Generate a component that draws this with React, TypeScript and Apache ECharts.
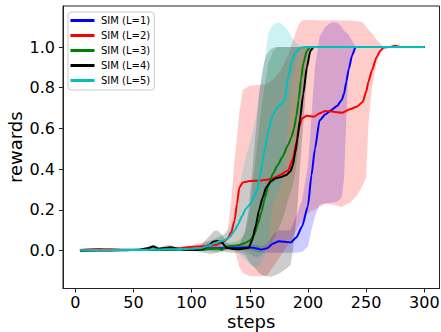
import React, { useEffect, useRef } from "react";
import * as echarts from "echarts";

// ---------- data ----------
const xTicks = [0, 50, 100, 150, 200, 250, 300];
const yTicks = [0, 0.2, 0.4, 0.6, 0.8, 1.0];

const stepsL1 = [4, 20, 40, 60, 80, 100, 120, 140, 150, 155, 160, 165, 170, 175, 180, 185, 190, 195, 200, 203, 206, 210, 215, 220, 225, 229, 231, 233, 235, 238, 241, 300];
const meanL1 = [0.003, 0.003, 0.005, 0.004, 0.005, 0.008, 0.012, 0.015, 0.016, 0.012, 0.006, 0.012, 0.035, 0.046, 0.044, 0.04, 0.065, 0.12, 0.22, 0.37, 0.5, 0.64, 0.67, 0.69, 0.71, 0.74, 0.77, 0.83, 0.89, 0.96, 1.0, 1.0];
const lowL1 = [0.0, 0.0, 0.002, 0.001, 0.002, 0.003, 0.005, 0.005, 0.004, -0.005, -0.01, -0.01, -0.01, -0.01, -0.01, -0.01, -0.01, -0.005, 0.02, 0.1, 0.17, 0.225, 0.233, 0.235, 0.24, 0.26, 0.35, 0.65, 0.9, 0.97, 1.0, 1.0];
const highL1 = [0.006, 0.006, 0.008, 0.007, 0.008, 0.013, 0.019, 0.025, 0.028, 0.03, 0.022, 0.034, 0.08, 0.1, 0.1, 0.1, 0.17, 0.25, 0.42, 0.66, 0.9, 1.05, 1.1, 1.12, 1.12, 1.1, 1.08, 1.07, 1.06, 1.03, 1.0, 1.0];

const stepsL2 = [4, 20, 30, 40, 60, 80, 100, 110, 120, 127, 131, 134, 137, 139, 141, 144, 150, 160, 165, 170, 176, 183, 187, 190, 192, 195, 199, 205, 210, 215, 222, 229, 236, 242, 247, 250, 252, 255, 259, 262, 265, 270, 275, 280, 300];
const meanL2 = [0.003, 0.008, 0.007, 0.004, 0.004, 0.006, 0.018, 0.022, 0.028, 0.042, 0.06, 0.09, 0.15, 0.23, 0.31, 0.335, 0.342, 0.345, 0.348, 0.356, 0.372, 0.395, 0.45, 0.53, 0.6, 0.65, 0.662, 0.658, 0.675, 0.686, 0.682, 0.677, 0.694, 0.707, 0.73, 0.78, 0.83, 0.885, 0.95, 0.98, 0.997, 1.0, 1.006, 1.0, 1.0];
const lowL2 = [0.0, 0.004, 0.003, 0.001, 0.001, 0.002, 0.008, 0.005, 0.0, 0.005, 0.01, 0.01, 0.0, -0.04, -0.08, -0.11, -0.125, -0.125, -0.12, -0.08, -0.03, 0.03, 0.07, 0.1, 0.12, 0.15, 0.18, 0.2, 0.215, 0.23, 0.225, 0.215, 0.235, 0.27, 0.32, 0.36, 0.62, 0.8, 0.92, 0.97, 0.995, 1.0, 1.0, 1.0, 1.0];
const highL2 = [0.006, 0.012, 0.011, 0.007, 0.007, 0.01, 0.028, 0.04, 0.056, 0.075, 0.1, 0.25, 0.45, 0.56, 0.68, 0.79, 0.81, 0.815, 0.82, 0.84, 0.88, 0.96, 1.03, 1.08, 1.11, 1.13, 1.133, 1.133, 1.13, 1.13, 1.133, 1.13, 1.13, 1.128, 1.12, 1.1, 1.085, 1.067, 1.035, 1.018, 1.0, 1.0, 1.012, 1.0, 1.0];

const stepsL3 = [4, 20, 40, 60, 80, 100, 110, 116, 122, 126, 130, 135, 141, 146, 150, 154, 157, 160, 163, 166, 170, 174, 178, 183, 186, 188, 190, 192, 194, 196, 199, 202, 300];
const meanL3 = [0.002, 0.003, 0.004, 0.003, 0.005, 0.006, 0.004, 0.01, 0.012, 0.004, 0.02, 0.024, 0.028, 0.038, 0.05, 0.08, 0.13, 0.19, 0.26, 0.32, 0.38, 0.42, 0.46, 0.52, 0.56, 0.6, 0.66, 0.74, 0.84, 0.92, 0.98, 1.0, 1.0];
const lowL3 = [0.0, 0.0, 0.001, 0.0, 0.002, 0.003, 0.0, -0.003, -0.008, -0.006, 0.005, 0.008, 0.005, -0.005, -0.015, -0.03, -0.03, -0.02, 0.0, 0.02, 0.05, 0.1, 0.15, 0.25, 0.3, 0.35, 0.42, 0.52, 0.68, 0.82, 0.95, 1.0, 1.0];
const highL3 = [0.004, 0.006, 0.007, 0.006, 0.008, 0.009, 0.008, 0.023, 0.032, 0.014, 0.035, 0.04, 0.051, 0.081, 0.2, 0.4, 0.55, 0.7, 0.82, 0.92, 0.98, 1.0, 1.0, 1.0, 1.0, 1.0, 1.0, 1.0, 1.0, 1.0, 1.0, 1.0, 1.0];

const stepsL4 = [4, 20, 40, 55, 62, 67, 72, 78, 82, 88, 95, 105, 110, 115, 119, 122, 126, 130, 135, 141, 146, 149, 152, 155, 158, 161, 164, 168, 172, 176, 181, 185, 187, 189, 191, 193, 196, 199, 202, 205, 300];
const meanL4 = [0.0, 0.001, 0.002, 0.005, 0.012, 0.02, 0.01, 0.015, 0.017, 0.01, 0.005, 0.004, 0.01, 0.028, 0.045, 0.048, 0.04, 0.015, 0.008, 0.007, 0.012, 0.015, 0.05, 0.12, 0.2, 0.26, 0.31, 0.34, 0.355, 0.36, 0.37, 0.39, 0.42, 0.48, 0.55, 0.64, 0.77, 0.9, 0.98, 1.0, 1.0];
const lowL4 = [0.0, -0.002, -0.002, 0.0, 0.005, 0.01, 0.003, 0.005, 0.007, 0.003, 0.0, -0.004, -0.01, -0.015, -0.015, -0.01, 0.0, -0.008, -0.01, -0.01, -0.02, -0.05, -0.07, -0.09, -0.11, -0.12, -0.125, -0.128, -0.12, -0.11, -0.09, -0.07, 0.0, 0.1, 0.22, 0.4, 0.62, 0.85, 0.96, 1.0, 1.0];
const highL4 = [0.002, 0.004, 0.006, 0.01, 0.019, 0.03, 0.017, 0.025, 0.027, 0.017, 0.01, 0.012, 0.04, 0.07, 0.095, 0.1, 0.08, 0.04, 0.026, 0.024, 0.1, 0.2, 0.38, 0.58, 0.77, 0.89, 0.96, 0.99, 1.0, 1.0, 1.0, 1.0, 1.0, 1.0, 1.0, 1.0, 1.0, 1.0, 1.0, 1.0, 1.0];

const stepsL5 = [4, 15, 30, 45, 60, 75, 90, 100, 108, 116, 123, 129, 133, 137, 140, 143, 147, 151, 154, 156, 159, 161, 163, 166, 170, 174, 177, 180, 183, 186, 189, 193, 198, 300];
const meanL5 = [0.002, 0.004, 0.003, 0.004, 0.004, 0.007, 0.008, 0.009, 0.012, 0.028, 0.044, 0.052, 0.069, 0.1, 0.13, 0.167, 0.208, 0.233, 0.27, 0.29, 0.37, 0.44, 0.5, 0.59, 0.67, 0.705, 0.72, 0.74, 0.85, 0.93, 0.97, 0.995, 1.0, 1.0];
const lowL5 = [0.0, 0.001, 0.0, 0.001, 0.001, 0.003, 0.004, 0.004, 0.0, 0.005, 0.02, 0.02, 0.02, 0.01, -0.01, -0.03, -0.05, -0.07, -0.08, -0.08, -0.07, -0.04, -0.02, 0.05, 0.24, 0.29, 0.32, 0.38, 0.63, 0.82, 0.92, 0.99, 1.0, 1.0];
const highL5 = [0.004, 0.007, 0.006, 0.007, 0.007, 0.011, 0.012, 0.014, 0.025, 0.05, 0.07, 0.085, 0.12, 0.2, 0.28, 0.37, 0.47, 0.55, 0.62, 0.68, 0.8, 0.86, 0.95, 1.07, 1.11, 1.12, 1.115, 1.1, 1.08, 1.05, 1.025, 1.005, 1.0, 1.0];

const seriesNames = ["SIM (L=1)", "SIM (L=2)", "SIM (L=3)", "SIM (L=4)", "SIM (L=5)"];
const seriesColors = ["#0000ff", "#ff0000", "#008000", "#000000", "#00bfbf"];
const allSteps = [stepsL1, stepsL2, stepsL3, stepsL4, stepsL5];
const allMeans = [meanL1, meanL2, meanL3, meanL4, meanL5];
const allLows = [lowL1, lowL2, lowL3, lowL4, lowL5];
const allHighs = [highL1, highL2, highL3, highL4, highL5];

function rgba(hex: string, a: number) {
  const r = parseInt(hex.slice(1, 3), 16);
  const g = parseInt(hex.slice(3, 5), 16);
  const b = parseInt(hex.slice(5, 7), 16);
  return `rgba(${r},${g},${b},${a})`;
}

const FONT = "DejaVu Sans";

export default function App() {
  const ref = useRef<HTMLDivElement>(null);
  useEffect(() => {
    const chart = echarts.init(ref.current!, undefined, { renderer: "svg" });

    const bands = seriesNames.map((name, k) => ({
      type: "custom",
      name: name + " band",
      silent: true,
      z: 1,
      clip: true,
      data: [[allSteps[k][0], allMeans[k][0]]],
      renderItem: (params: any, api: any) => {
        const xs = allSteps[k];
        const upper = xs.map((x, i) => api.coord([x, allHighs[k][i]]));
        const lower = xs.map((x, i) => api.coord([x, allLows[k][i]])).reverse();
        return {
          type: "polygon",
          shape: { points: upper.concat(lower) },
          style: { fill: rgba(seriesColors[k], 0.2), stroke: "none" },
        };
      },
    }));

    const lines = seriesNames.map((name, k) => ({
      type: "line",
      name,
      z: 3 + k,
      data: allSteps[k].map((x, i) => [x, allMeans[k][i]]),
      symbol: "none",
      showSymbol: false,
      smooth: 0.2,
      smoothMonotone: "x",
      lineStyle: { width: 2, color: seriesColors[k] },
      itemStyle: { color: seriesColors[k] },
    }));

    chart.setOption({
      animation: false,
      grid: {
        left: 63,
        right: 1.5,
        top: 6,
        bottom: 43.5,
        containLabel: false,
        outerBoundsMode: "none",
        show: true,
        borderColor: "#222",
        borderWidth: 1,
        backgroundColor: "#fff",
      },
      xAxis: {
        type: "value",
        min: -10.57,
        max: 313.07,
        name: "steps",
        nameLocation: "middle",
        nameGap: 24,
        nameMoveOverlap: false,
        nameTextStyle: { fontSize: 18, fontFamily: FONT, color: "#000" },
        axisLine: { show: true, onZero: false, lineStyle: { color: "#222", width: 1 } },
        axisTick: { show: true, length: 4, customValues: xTicks, lineStyle: { color: "#222" } },
        axisLabel: { customValues: xTicks, fontSize: 16, fontFamily: FONT, color: "#000", margin: 6 },
        splitLine: { show: false },
      },
      yAxis: {
        type: "value",
        min: -0.1856,
        max: 1.2013,
        name: "rewards",
        nameLocation: "middle",
        nameGap: 39,
        nameMoveOverlap: false,
        nameTextStyle: { fontSize: 18, fontFamily: FONT, color: "#000" },
        axisLine: { show: true, onZero: false, lineStyle: { color: "#222", width: 1 } },
        axisTick: { show: true, length: 4, customValues: yTicks, lineStyle: { color: "#222" } },
        axisLabel: {
          customValues: yTicks,
          fontSize: 16,
          fontFamily: FONT,
          color: "#000",
          margin: 8,
          formatter: (v: number) => v.toFixed(1),
        },
        splitLine: { show: false },
      },
      legend: {
        data: seriesNames,
        orient: "vertical",
        left: 68,
        top: 12,
        icon: "rect",
        itemWidth: 24,
        itemHeight: 3,
        itemGap: 3,
        padding: [2.5, 4, 3.5, 2.5],
        backgroundColor: "rgba(255,255,255,0.8)",
        borderColor: "#cccccc",
        borderWidth: 1,
        borderRadius: 3,
        textStyle: { fontSize: 10, lineHeight: 12, fontFamily: FONT, color: "#000", padding: [0, 0, 0, 1.5] },
      },
      series: [...bands, ...lines],
    });

    return () => chart.dispose();
  }, []);

  return (
    <div
      ref={ref}
      style={{ position: "fixed", left: 0, top: 0, width: 441, height: 332, background: "#fff" }}
    />
  );
}
